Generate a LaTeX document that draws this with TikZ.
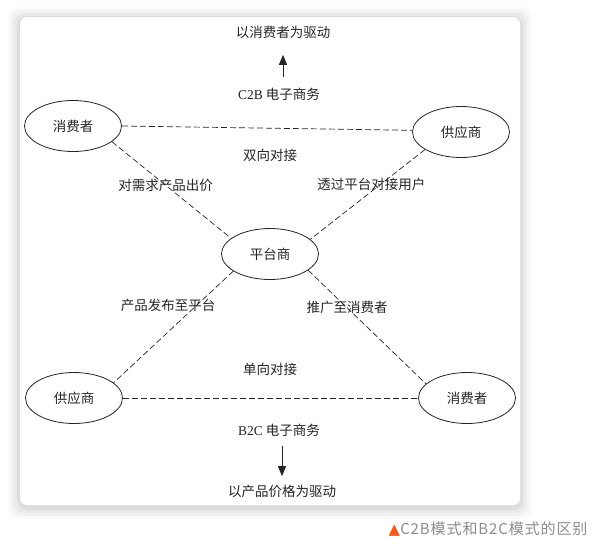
\documentclass[tikz,border=0pt]{standalone}
\usepackage{fontspec}
\setmainfont{Noto Sans CJK SC}
\newfontfamily\latinfont{Liberation Serif}
\newfontfamily\symfont{DejaVu Sans}
\usetikzlibrary{shapes.geometric,arrows.meta}
\definecolor{ink}{HTML}{262626}
\definecolor{capgray}{HTML}{8C8C8C}
\definecolor{caporange}{HTML}{F25A1C}

\begin{document}
\begin{tikzpicture}[x=1pt,y=-1pt,
  every node/.style={font=\fontsize{13.5pt}{15pt}\selectfont,text=ink},
  party/.style={ellipse,draw=ink,line width=0.8pt,minimum width=97pt,minimum height=51pt,inner sep=0pt},
  link/.style={draw=ink,line width=0.7pt,dash pattern=on 6pt off 3pt},
  drive/.style={draw=ink,line width=1pt,-{Triangle[length=10pt,width=8pt]}}]
\useasboundingbox (0,0) rectangle (597,544);
% card with soft shadow
\foreach \s/\o in {12/0.02,9/0.03,6/0.04,3/0.05}
  \fill[black,opacity=\o,rounded corners=10pt] ({20-\s},{19-\s}) rectangle ({520+\s},{507+\s});
\fill[white,rounded corners=7pt] (20,17) rectangle (520,505);

\node[party] (C1) at (73,126) {消费者};
\node[party] (S1) at (461,132) {供应商};
\node[party] (P) at (270,254) {平台商};
\node[party] (S2) at (74,398) {供应商};
\node[party] (C2) at (467,398) {消费者};

\node (ctop) at (283,32) {以消费者为驱动};
\node (c2b) at (279,94) {{\latinfont C2B} 电子商务};
\node (both) at (270,155) {双向对接};
\node (one) at (270,369) {单向对接};
\node (b2c) at (279,430) {{\latinfont B2C} 电子商务};
\node (bbot) at (282,491) {以产品价格为驱动};

\path[link]
(C1.east) edge (S1.178)
(C1.-22) edge node[pos=0.45] {对需求产品出价} (P.158)
(S1.206) edge node[pos=0.39,xshift=-9pt] {透过平台对接用户} (P.20)
(P.205) edge node[pos=0.31,xshift=-28pt] {产品发布至平台} (S2.21)
(P.-23) edge node[pos=0.33] {推广至消费者} (C2.161)
(S2.east) edge (C2.west);

\draw[drive,shorten <=7pt,shorten >=13pt] (c2b.north -| ctop) -- (ctop.south);
\draw[drive,shorten <=6pt,shorten >=5pt] (b2c.south -| bbot) -- (bbot.north);

\node[text=capgray,font=\fontsize{15pt}{17pt}\selectfont\addfontfeatures{LetterSpace=6},anchor=east] (cap) at (591,529)
  {\textcolor{caporange}{\symfont\fontsize{15pt}{16pt}\selectfont ▲}C2B模式和B2C模式的区别};
\end{tikzpicture}
\end{document}
